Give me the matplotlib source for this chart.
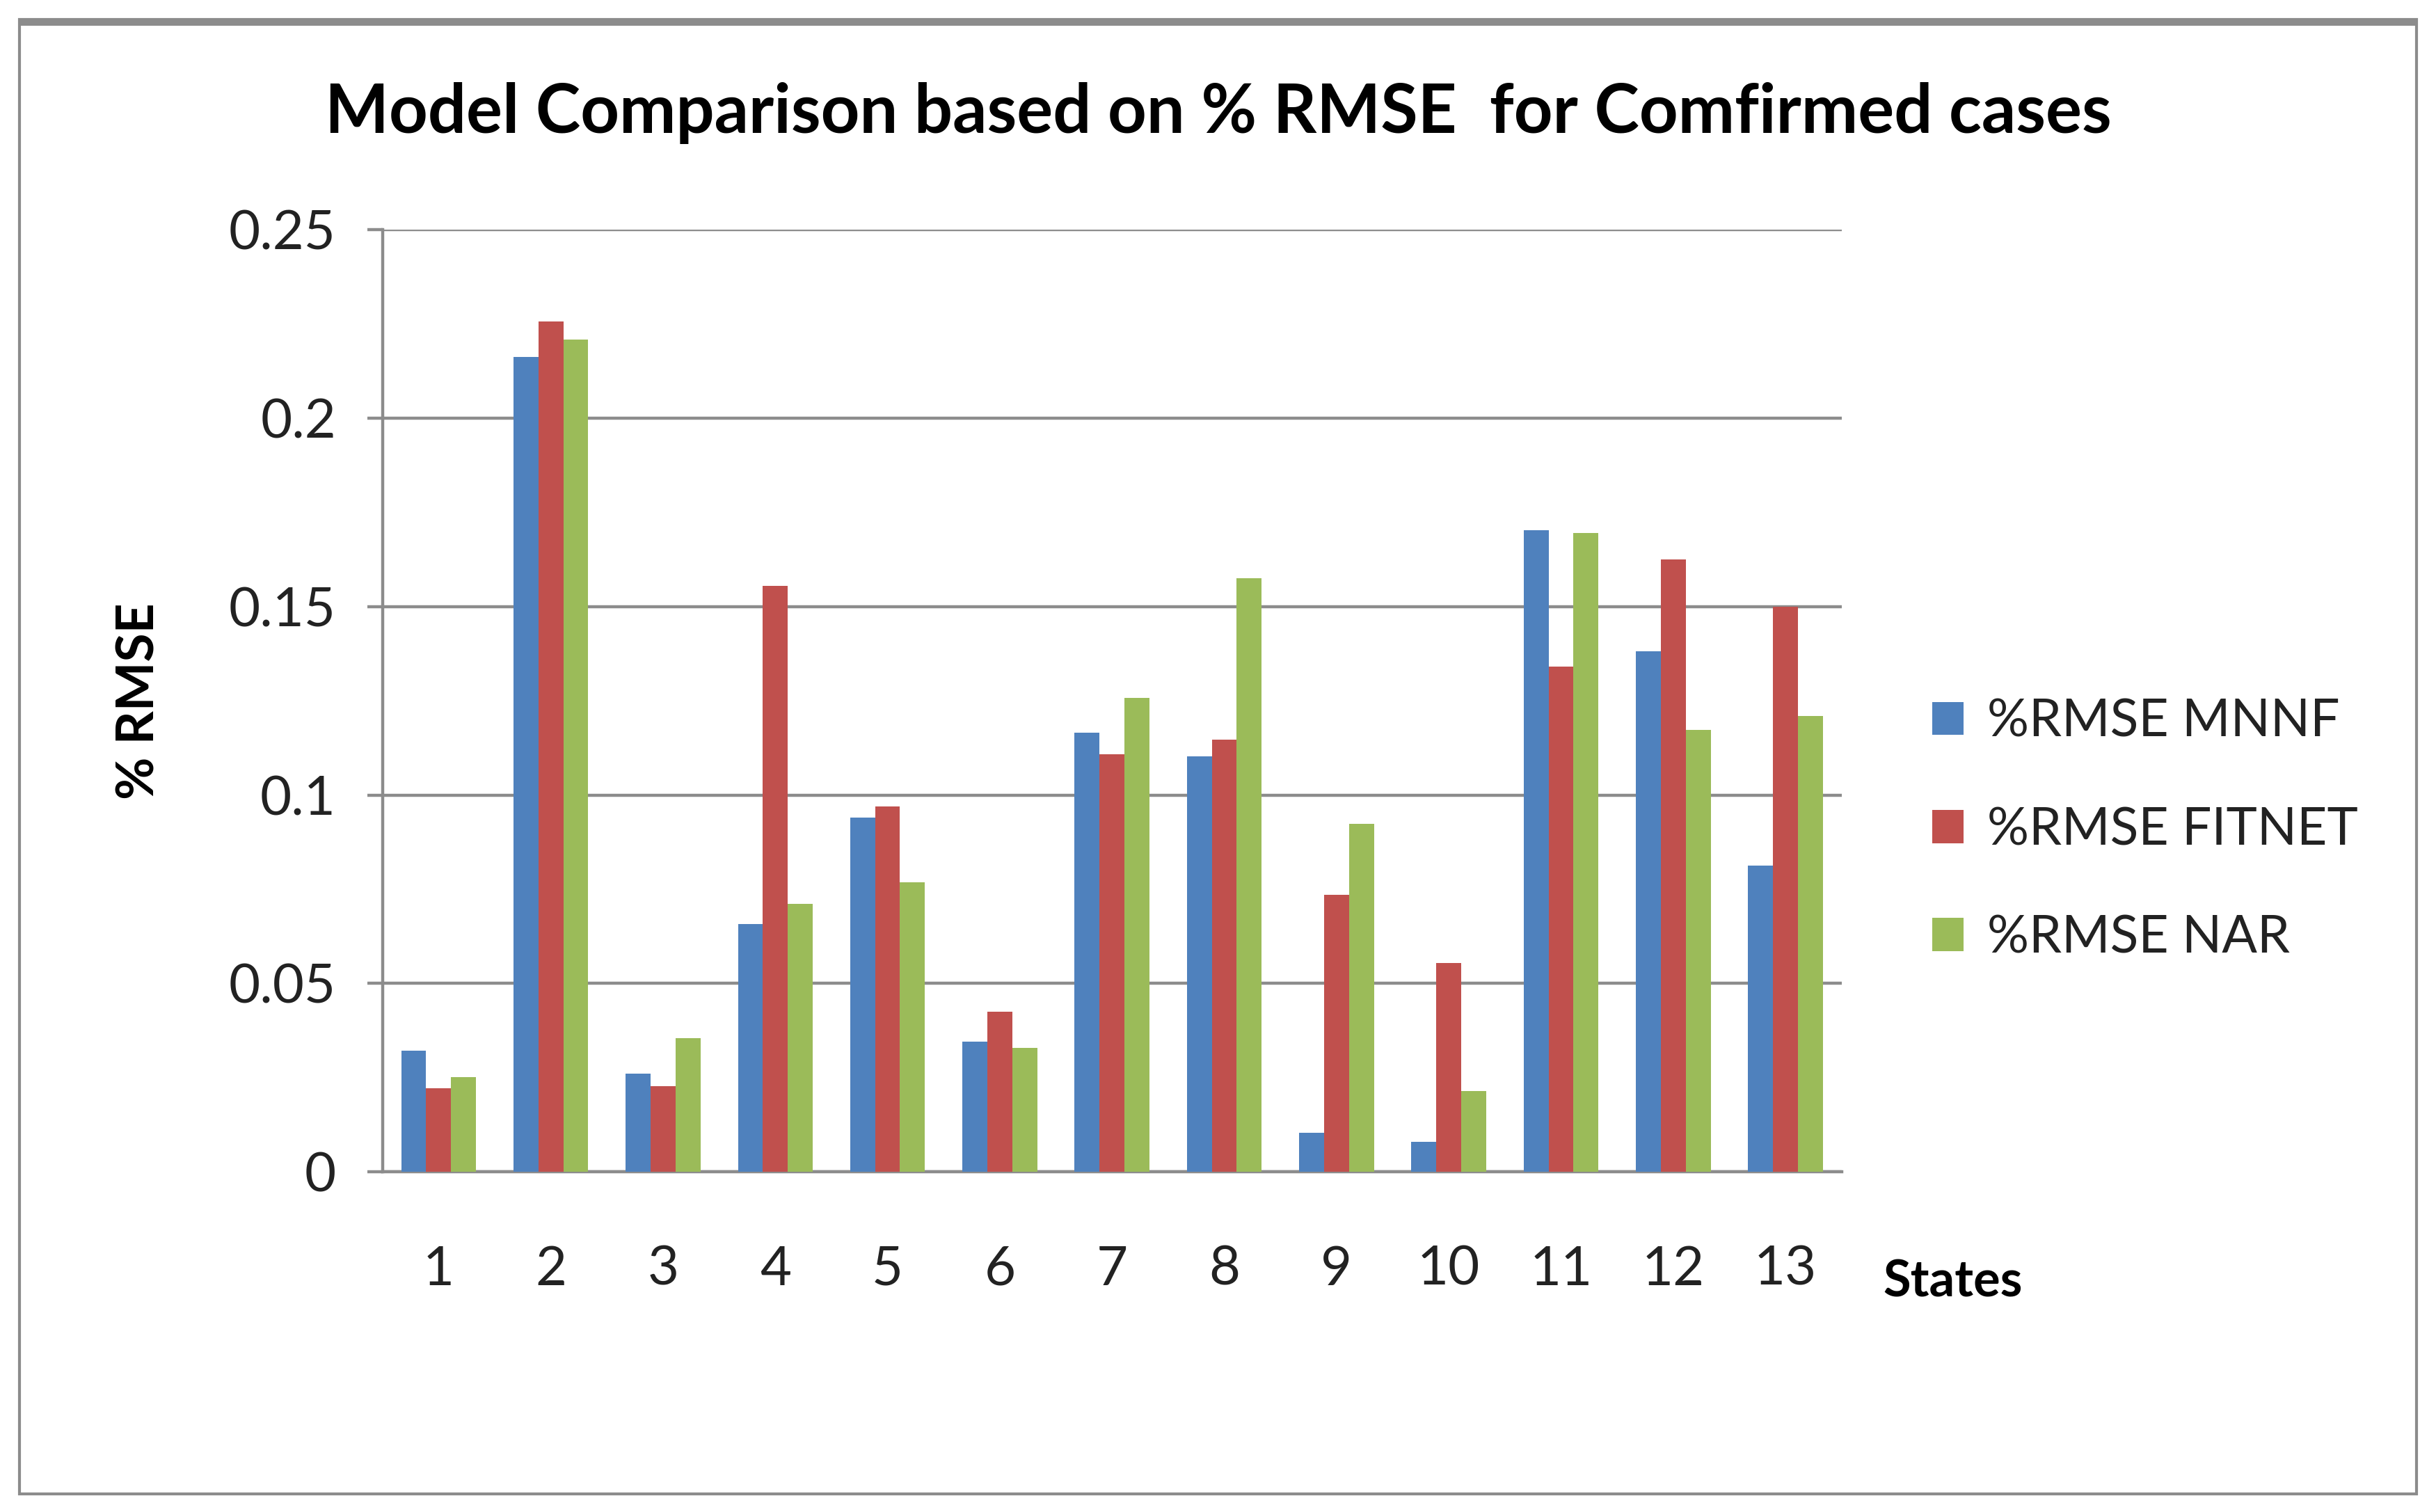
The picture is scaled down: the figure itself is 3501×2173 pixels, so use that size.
import matplotlib
matplotlib.use("Agg")
import matplotlib.pyplot as plt
import numpy as np
from matplotlib.patches import Rectangle

states = ["1", "2", "3", "4", "5", "6", "7", "8", "9", "10", "11", "12", "13"]
rmse_mnnf = [0.0321, 0.2162, 0.0261, 0.0658, 0.0940, 0.0345, 0.1165, 0.1102, 0.0103, 0.0079, 0.1702, 0.1382, 0.0813]
rmse_fitnet = [0.0222, 0.2256, 0.0227, 0.1555, 0.0969, 0.0424, 0.1109, 0.1147, 0.0735, 0.0555, 0.1341, 0.1625, 0.1500]
rmse_nar = [0.0251, 0.2208, 0.0355, 0.0711, 0.0769, 0.0328, 0.1258, 0.1576, 0.0923, 0.0214, 0.1695, 0.1172, 0.1210]
series_names = ["%RMSE MNNF", "%RMSE FITNET", "%RMSE NAR"]
yticks = [0, 0.05, 0.1, 0.15, 0.2, 0.25]
ytick_labels = ["0", "0.05", "0.1", "0.15", "0.2", "0.25"]

colors = ["#4F81BD", "#C0504D", "#9BBB59"]
plt.rcParams['font.family'] = ['Lato', 'DejaVu Sans']

fig = plt.figure(figsize=(17.505, 10.865), dpi=200)
ax = fig.add_axes([0.157, 0.225, 0.599, 0.623])

x = np.arange(len(states))
w = 0.222
for i, (vals, name) in enumerate(zip([rmse_mnnf, rmse_fitnet, rmse_nar], series_names)):
    ax.bar(x + (i - 1) * w, vals, width=w, color=colors[i], label=name, zorder=3)

ax.set_xlim(-0.5, len(states) - 0.5)
ax.set_ylim(0, 0.25)
ax.set_yticks(yticks)
ax.set_yticklabels(ytick_labels)
ax.set_xticks(x)
ax.set_xticklabels(states)
ax.yaxis.grid(True, color="#8C8C8C", linewidth=1.6, zorder=0)
ax.set_axisbelow(True)
for s in ["top", "right"]:
    ax.spines[s].set_visible(False)
for s in ["left", "bottom"]:
    ax.spines[s].set_color("#8C8C8C")
    ax.spines[s].set_linewidth(1.6)
ax.tick_params(axis="y", length=8, width=1.6, color="#8C8C8C", labelsize=28, pad=16, labelcolor="#222222")
ax.tick_params(axis="x", length=0, labelsize=28, pad=38, labelcolor="#222222")

ax.set_ylabel("% RMSE", fontsize=27, fontweight="bold", labelpad=34)
fig.text(0.773, 0.152, "States", fontsize=26, fontweight="bold", ha="left", va="center")
fig.text(0.5, 0.925, "Model Comparison based on % RMSE  for Comfirmed cases", fontsize=35,
         fontweight="bold", ha="center", va="center")

leg = ax.legend(loc="center left", bbox_to_anchor=(1.03, 0.363), frameon=False, fontsize=27,
                handlelength=0.6, handleheight=0.6, handletextpad=0.45, labelspacing=1.15)
for t in leg.get_texts():
    t.set_color("#222222")

fig.patches.append(Rectangle((0.008, 0.012), 0.984, 0.975, transform=fig.transFigure,
                             fill=False, edgecolor="#8C8C8C", linewidth=1.5))
fig.patches.append(Rectangle((0.008, 0.983), 0.984, 0.004, transform=fig.transFigure,
                             fill=True, facecolor="#8C8C8C", edgecolor="none"))

fig.savefig("out.png", dpi=200, facecolor="white")
